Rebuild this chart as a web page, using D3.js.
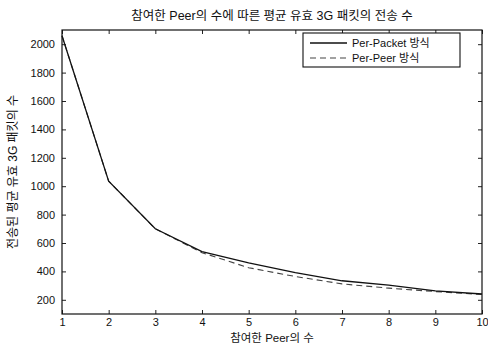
<!DOCTYPE html>
<html>
<head>
<meta charset="utf-8">
<script src="https://cdn.jsdelivr.net/npm/d3@7"></script>
<style>
  body { margin: 0; background: #fff; }
  text { font-family: "Liberation Sans", Arial, "Noto Sans CJK KR", sans-serif; fill: #111; }
</style>
</head>
<body>
<div id="chart"></div>
<script>
var peers = [1, 2, 3, 4, 5, 6, 7, 8, 9, 10];
var perPacket = [2060, 1035, 700, 540, 460, 392, 334, 304, 263, 241];
var perPeer = [2060, 1035, 700, 532, 426, 364, 312, 282, 258, 237];
var yTicks = [200, 400, 600, 800, 1000, 1200, 1400, 1600, 1800, 2000];
var seriesNames = ["Per-Packet 방식", "Per-Peer 방식"];

var width = 488, height = 344;
var margin = {left: 62, right: 6, top: 30, bottom: 30};

var svg = d3.select("#chart")
    .append("svg")
    .attr("width", width)
    .attr("height", height);

var x = d3.scaleLinear().domain([1, 10]).range([margin.left, width - margin.right]);
var y = d3.scaleLinear().domain([100, 2100]).range([height - margin.bottom, margin.top]);

// axes (ticks inward, MATLAB style box)
var fontSize = "11px";
svg.append("g")
    .attr("transform", "translate(0," + (height - margin.bottom) + ")")
    .call(d3.axisBottom(x).tickValues(peers).tickSize(-4).tickPadding(4).tickFormat(d3.format("d")).tickSizeOuter(0))
    .call(g => g.selectAll("text").style("font-size", fontSize));
svg.append("g")
    .attr("transform", "translate(0," + margin.top + ")")
    .call(d3.axisTop(x).tickValues(peers).tickSize(-4).tickFormat("").tickSizeOuter(0));
svg.append("g")
    .attr("transform", "translate(" + margin.left + ",0)")
    .call(d3.axisLeft(y).tickValues(yTicks).tickSize(-4).tickPadding(7).tickFormat(d3.format("d")).tickSizeOuter(0))
    .call(g => g.selectAll("text").style("font-size", fontSize));
svg.append("g")
    .attr("transform", "translate(" + (width - margin.right) + ",0)")
    .call(d3.axisRight(y).tickValues(yTicks).tickSize(-4).tickFormat("").tickSizeOuter(0));
svg.selectAll(".domain").remove();
svg.selectAll(".tick line").attr("stroke", "#222");

svg.append("rect")
    .attr("x", margin.left).attr("y", margin.top)
    .attr("width", width - margin.left - margin.right)
    .attr("height", height - margin.top - margin.bottom)
    .attr("fill", "none").attr("stroke", "#111").attr("stroke-width", 1.2);

var line = d3.line()
    .x(function(d, i) { return x(peers[i]); })
    .y(function(d) { return y(d); });

svg.append("path").datum(perPeer)
    .attr("d", line)
    .attr("fill", "none")
    .attr("stroke", "#444")
    .attr("stroke-width", 1.1)
    .attr("stroke-dasharray", "6,4");

svg.append("path").datum(perPacket)
    .attr("d", line)
    .attr("fill", "none")
    .attr("stroke", "#111")
    .attr("stroke-width", 1.3);

// legend
var lg = svg.append("g").attr("transform", "translate(303,33)");
lg.append("rect")
    .attr("width", 157).attr("height", 34)
    .attr("fill", "#fff").attr("stroke", "#111").attr("stroke-width", 1.1);
seriesNames.forEach(function(name, i) {
    var yy = 10 + i * 15;
    lg.append("line")
        .attr("x1", 7).attr("x2", 44).attr("y1", yy).attr("y2", yy)
        .attr("stroke", i == 0 ? "#111" : "#444")
        .attr("stroke-width", i == 0 ? 1.3 : 1.1)
        .attr("stroke-dasharray", i == 0 ? null : "6,4");
    lg.append("text")
        .attr("x", 49).attr("y", yy + 4)
        .style("font-size", "11px")
        .text(name);
});

// titles
svg.append("text")
    .attr("x", (margin.left + width - margin.right) / 2)
    .attr("y", 20)
    .attr("text-anchor", "middle")
    .style("font-size", "12.5px")
    .text("참여한 Peer의 수에 따른 평균 유효 3G 패킷의 전송 수");

svg.append("text")
    .attr("x", (margin.left + width - margin.right) / 2)
    .attr("y", 342)
    .attr("text-anchor", "middle")
    .style("font-size", "11.5px")
    .text("참여한 Peer의 수");

svg.append("text")
    .attr("transform", "translate(17," + ((margin.top + height - margin.bottom) / 2) + ") rotate(-90)")
    .attr("text-anchor", "middle")
    .style("font-size", "12px")
    .text("전송된 평균 유효 3G 패킷의 수");
</script>
</body>
</html>
